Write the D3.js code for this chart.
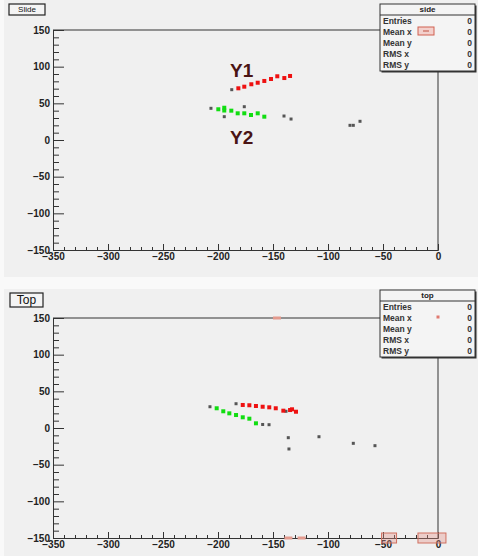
<!DOCTYPE html>
<html><head><meta charset="utf-8">
<script src="https://cdn.jsdelivr.net/npm/d3@7"></script>
<style>
html,body{margin:0;padding:0;background:#f9f9f9;}
svg{display:block;font-family:"Liberation Sans",Arial,sans-serif;}
</style></head>
<body><svg id="c" width="478" height="556"></svg>
<script>
// ---------- data (x, y in plot units) ----------
const xTicks = [-350,-300,-250,-200,-150,-100,-50,0];
const yTicks = [-150,-100,-50,0,50,100,150];
const statsRows = ["Entries","Mean x","Mean y","RMS x","RMS y"];
const statsValues = [0,0,0,0,0];

const sideRed = [[-181.5,70.5],[-176.1,72.7],[-169.7,76.0],[-163.9,78.1],[-157.9,80.5],[-151.8,83.2],[-146.1,86.9],[-139.7,84.5],[-134.5,87.3]];
const sideGreen = [[-199.7,41.9],[-194.3,44.0],[-194.3,40.2],[-187.9,40.0],[-182.1,36.4],[-176.1,36.4],[-170.0,34.1],[-163.9,36.4],[-157.9,31.8]];
const sideGray = [[-187.5,68.6],[-206.4,43.2],[-176.1,45.4],[-194.3,31.8],[-140,32.7],[-133.6,28.6],[-80,20],[-77,20],[-70.9,25.5]];

const topRed = [[-177.5,31.4],[-171.5,31.0],[-165.5,30.0],[-159.4,29.0],[-153.4,28.2],[-147.5,26.9],[-140.6,23.6],[-134.5,24.5],[-132.7,25.5],[-129.1,22.2]];
const topGreen = [[-201.2,26.9],[-195.2,22.8],[-189.7,20.0],[-183.6,17.7],[-177.5,14.6],[-171.5,12.7],[-165.5,6.4]];
const topGray = [[-207.3,29.0],[-183.6,33.1],[-138.2,22.8],[-159.4,4.8],[-153.6,4.5],[-136.1,-13.2],[-135.5,-28.6],[-108.2,-11.9],[-77,-20.9],[-57.3,-24.1]];
const topEdgeMarks = [[-146.4,150],[-136,-150],[-124,-150]];
const topEdgeBoxes = [[-44.5,-150],[-5.5,-150]];

// ---------- drawing ----------
const svg = d3.select("#c");

function panel(cfg){
  const g = svg.append("g");
  g.append("rect").attr("x",4).attr("y",cfg.padTop).attr("width",474).attr("height",cfg.padH).attr("fill","#f0f0f0");
  const x = d3.scaleLinear().domain([-350,0]).range([53,438]);
  const y = d3.scaleLinear().domain([-150,150]).range([cfg.bottom,cfg.top]);

  // frame
  g.append("line").attr("x1",53).attr("x2",438).attr("y1",cfg.top).attr("y2",cfg.top).attr("stroke","#333");
  g.append("line").attr("x1",438).attr("x2",438).attr("y1",cfg.top).attr("y2",cfg.bottom).attr("stroke","#333");

  // x axis
  const xa = g.append("g").attr("transform",`translate(0,${cfg.bottom})`)
    .call(d3.axisBottom(x).tickValues(xTicks).tickSize(-6).tickPadding(4).tickFormat(d3.format("d")));
  xa.select(".domain").attr("stroke","#333");
  xa.selectAll(".tick line").attr("stroke","#333");
  xa.selectAll("text").attr("fill","#222").attr("font-size",10).attr("font-weight","bold").attr("dy","0.6em");
  const xm = g.append("g").attr("transform",`translate(0,${cfg.bottom})`)
    .call(d3.axisBottom(x).tickValues(d3.range(-350,1,10).filter(v=>v%50!==0)).tickSize(-3).tickFormat(""));
  xm.select(".domain").remove(); xm.selectAll(".tick line").attr("stroke","#333");

  // y axis
  const ya = g.append("g").attr("transform","translate(53,0)")
    .call(d3.axisLeft(y).tickValues(yTicks).tickSize(-11).tickPadding(3).tickFormat(d3.format("d")));
  ya.select(".domain").attr("stroke","#333");
  ya.selectAll(".tick line").attr("stroke","#333");
  ya.selectAll("text").attr("fill","#222").attr("font-size",10).attr("font-weight","bold");
  const ym = g.append("g").attr("transform","translate(53,0)")
    .call(d3.axisLeft(y).tickValues(d3.range(-150,151,10).filter(v=>v%50!==0)).tickSize(-6).tickFormat(""));
  ym.select(".domain").remove(); ym.selectAll(".tick line").attr("stroke","#333");

  // points
  const pts = (arr,col,s)=>g.append("g").selectAll("rect").data(arr).join("rect")
    .attr("x",d=>x(d[0])-s/2).attr("y",d=>y(d[1])-s/2).attr("width",s).attr("height",s).attr("fill",col);
  pts(cfg.gray,"#555",3);
  pts(cfg.red,"#ee1111",4);
  pts(cfg.green,"#11dd11",4);

  // title box
  g.append("rect").attr("x",cfg.lbl.x).attr("y",cfg.lbl.y).attr("width",cfg.lbl.w).attr("height",cfg.lbl.h)
    .attr("fill","#f4f4f4").attr("stroke","#222").attr("stroke-width",1.2);
  g.append("text").attr("x",cfg.lbl.x+cfg.lbl.w/2).attr("y",cfg.lbl.y+cfg.lbl.h/2).attr("dy","0.35em")
    .attr("text-anchor","middle").attr("font-size",cfg.lbl.fs).attr("fill","#111").text(cfg.lbl.text);

  // stats box
  const sx=380, sw=95, sy=cfg.statsTop, sh=67, th=11;
  g.append("rect").attr("x",sx+1.5).attr("y",sy+1.5).attr("width",sw).attr("height",sh).attr("fill","#333");
  g.append("rect").attr("x",sx).attr("y",sy).attr("width",sw).attr("height",sh).attr("fill","#f4f4f4").attr("stroke","#333");
  g.append("line").attr("x1",sx).attr("x2",sx+sw).attr("y1",sy+th).attr("y2",sy+th).attr("stroke","#333");
  g.append("text").attr("x",sx+sw/2).attr("y",sy+th/2).attr("dy","0.35em").attr("text-anchor","middle")
    .attr("font-size",8).attr("font-weight","bold").attr("fill","#222").text(cfg.statsTitle);
  const rowY = d3.scalePoint().domain(statsRows).range([sy+th+6.5, sy+sh-6]);
  g.selectAll(null).data(statsRows).join("text").attr("x",sx+3).attr("y",d=>rowY(d)).attr("dy","0.35em")
    .attr("font-size",8.5).attr("font-weight","bold").attr("fill","#333").text(d=>d);
  g.selectAll(null).data(statsValues).join("text").attr("x",sx+sw-3).attr("y",(d,i)=>rowY(statsRows[i])).attr("dy","0.35em")
    .attr("text-anchor","end").attr("font-size",8.5).attr("font-weight","bold").attr("fill","#333").text(d=>d);
  return {g,x,y};
}

// top panel
const p1 = panel({padTop:0,padH:277,top:30,bottom:250,red:sideRed,green:sideGreen,gray:sideGray,
  lbl:{x:9,y:4,w:36,h:11,fs:8,text:"Slide"},statsTop:4,statsTitle:"side"});
p1.g.append("rect").attr("x",418).attr("y",27).attr("width",16).attr("height",8).attr("fill","#f3d0cc").attr("stroke","#d06050");
p1.g.append("line").attr("x1",423).attr("x2",429).attr("y1",31).attr("y2",31).attr("stroke","#c05040");
p1.g.append("text").attr("x",p1.x(-178.5)).attr("y",p1.y(95.5)).attr("text-anchor","middle").attr("dy","0.35em")
  .attr("font-size",19).attr("font-weight","bold").attr("fill","#4a1414").text("Y1");
p1.g.append("text").attr("x",p1.x(-178.5)).attr("y",p1.y(4)).attr("text-anchor","middle").attr("dy","0.35em")
  .attr("font-size",19).attr("font-weight","bold").attr("fill","#4a1414").text("Y2");

// bottom panel
const p2 = panel({padTop:289,padH:267,top:318,bottom:538,red:topRed,green:topGreen,gray:topGray,
  lbl:{x:10,y:293,w:33,h:14,fs:12,text:"Top"},statsTop:290,statsTitle:"top"});
p2.g.selectAll(null).data(topEdgeMarks).join("rect")
  .attr("x",d=>p2.x(d[0])-4).attr("y",d=>p2.y(d[1])-1.5).attr("width",8).attr("height",3).attr("fill","#e39a8e");
p2.g.selectAll(null).data(topEdgeBoxes).join("rect")
  .attr("x",(d,i)=>p2.x(d[0])-(i?14:7.5)).attr("y",d=>p2.y(d[1])-5).attr("width",(d,i)=>i?28:15).attr("height",10)
  .attr("fill","rgba(230,140,130,0.35)").attr("stroke","#d07060");
p2.g.append("rect").attr("x",436.5).attr("y",315.5).attr("width",3).attr("height",3).attr("fill","#e07a70");
</script></body></html>
